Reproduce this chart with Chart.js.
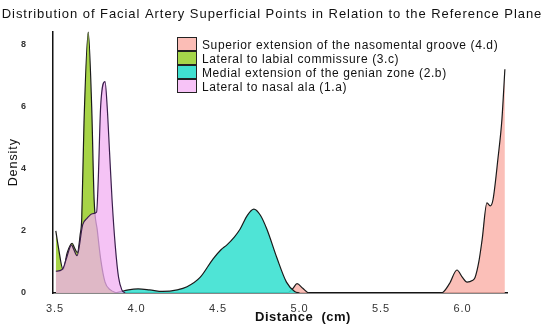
<!DOCTYPE html>
<html><head><meta charset="utf-8">
<script src="https://cdn.jsdelivr.net/npm/chart.js@4.4.0/dist/chart.umd.min.js"></script>
<style>html,body{margin:0;padding:0;background:#fff}</style>
</head><body>
<canvas id="c" width="544" height="325"></canvas>
<script>
const chartTitle = 'Distribution of Facial Artery Superficial Points in Relation to the Reference Plane';
const xTitle = 'Distance  (cm)';
const yTitle = 'Density';
const seriesLabels = [
  'Superior extension of the nasomental groove (4.d)',
  'Lateral to labial commissure (3.c)',
  'Medial extension of the genian zone (2.b)',
  'Lateral to nasal ala (1.a)'
];
const xTickValues = [3.5, 4.0, 4.5, 5.0, 5.5, 6.0];
const yTickValues = [0, 2, 4, 6, 8];

// 4.d
const nasomentalX = [4.93, 4.96, 4.985, 5.02, 5.06, 5.87, 5.92, 5.966, 6.0, 6.028, 6.06, 6.077, 6.10, 6.12, 6.15, 6.17, 6.187, 6.218, 6.242, 6.26];
const nasomentalY = [0, 0.15, 0.3, 0.15, 0, 0, 0.3, 0.74, 0.5, 0.35, 0.4, 0.5, 1.0, 1.7, 2.9, 2.8, 3.0, 4.35, 5.6, 7.2];
// 3.c
const commissureX = [3.505, 3.52, 3.55, 3.575, 3.605, 3.62, 3.637, 3.655, 3.664, 3.678, 3.704, 3.725, 3.74, 3.76, 3.78, 3.807, 3.84, 3.88];
const commissureY = [2.0, 1.5, 0.75, 1.3, 1.6, 1.45, 1.3, 1.9, 2.4, 5.5, 8.4, 6.0, 3.0, 2.0, 1.1, 0.35, 0.1, 0];
// 2.b
const genianX = [3.87, 3.90, 3.95, 4.01, 4.08, 4.16, 4.25, 4.31, 4.39, 4.47, 4.52, 4.555, 4.60, 4.635, 4.68, 4.72, 4.76, 4.80, 4.86, 4.92, 4.97, 5.0];
const genianY = [0, 0.04, 0.1, 0.13, 0.1, 0.05, 0.1, 0.2, 0.5, 1.1, 1.4, 1.55, 1.8, 2.05, 2.5, 2.7, 2.5, 2.05, 1.15, 0.35, 0.05, 0];
// 1.a
const nasalAlaX = [3.505, 3.53, 3.55, 3.575, 3.59, 3.60, 3.615, 3.635, 3.67, 3.696, 3.73, 3.755, 3.765, 3.78, 3.807, 3.82, 3.835, 3.85, 3.87, 3.89, 3.91, 3.93];
const nasalAlaY = [0.7, 0.72, 0.8, 1.2, 1.45, 1.55, 1.4, 1.2, 2.2, 2.4, 2.55, 2.6, 3.6, 6.0, 6.8, 6.0, 4.5, 3.0, 1.5, 0.5, 0.1, 0];

const fills = ['rgba(250,180,172,0.85)', 'rgba(160,208,55,0.92)', 'rgba(60,225,210,0.9)', 'rgba(242,175,242,0.75)'];
const borders = ['#1a1a1a', '#1a1a1a', '#1a1a1a', '#3a1d4c'];
const legendFills = ['#fbbdb6', '#a5d64a', '#40e0d0', '#f7c3f7'];

const FONT = "'Liberation Sans', Arial, sans-serif";
const pairs = (xs, ys) => xs.map((x, i) => ({x: x, y: ys[i]}));
const seriesData = [pairs(nasomentalX, nasomentalY), pairs(commissureX, commissureY), pairs(genianX, genianY), pairs(nasalAlaX, nasalAlaY)];
const drawOrder = [4, 3, 2, 1];

const datasets = seriesLabels.map((lab, i) => ({
  label: lab,
  data: seriesData[i],
  xAxisID: 'x',
  yAxisID: 'y',
  backgroundColor: fills[i],
  borderColor: borders[i],
  borderWidth: 1.2,
  pointRadius: 0,
  fill: 'origin',
  cubicInterpolationMode: 'monotone',
  order: drawOrder[i]
}));

const spacingPlugin = {
  id: 'spacing',
  beforeDraw(chart) { chart.ctx.letterSpacing = '0.95px'; }
};

const overlayPlugin = {
  id: 'overlay',
  afterDraw(chart) {
    const ctx = chart.ctx;
    ctx.save();
    // legend
    const x0 = 177, y0 = 37, bw = 20, bh = 14;
    ctx.letterSpacing = '0.6px';
    seriesLabels.forEach((lab, i) => {
      const y = y0 + i * bh;
      ctx.fillStyle = legendFills[i];
      ctx.fillRect(x0, y, bw, bh);
      ctx.strokeStyle = '#222';
      ctx.lineWidth = 1;
      ctx.strokeRect(x0 + 0.5, y + 0.5, bw - 1, bh - 1);
      ctx.fillStyle = '#111';
      ctx.font = '12px ' + FONT;
      ctx.textBaseline = 'middle';
      ctx.textAlign = 'left';
      ctx.fillText(lab, x0 + bw + 5, y + bh / 2 + 1.5);
    });
    // x title
    ctx.letterSpacing = '0.5px';
    ctx.font = 'bold 13px ' + FONT;
    ctx.fillStyle = '#111';
    ctx.textAlign = 'center';
    ctx.textBaseline = 'middle';
    ctx.fillText(xTitle, 303, 317);
    ctx.restore();
    ctx.letterSpacing = '0px';
  }
};

new Chart(document.getElementById('c'), {
  type: 'line',
  data: { datasets: datasets },
  plugins: [spacingPlugin, overlayPlugin],
  options: {
    responsive: false,
    devicePixelRatio: 1,
    animation: false,
    layout: { padding: 0 },
    plugins: {
      legend: { display: false },
      tooltip: { enabled: false },
      title: {
        display: true,
        text: chartTitle,
        color: '#111',
        font: { family: FONT, size: 13, weight: 'normal' },
        padding: { top: 5, bottom: 9.4 }
      }
    },
    scales: {
      x: {
        type: 'linear',
        min: 3.4877,
        max: 6.273,
        grid: { display: false, drawTicks: false },
        border: { display: true, color: '#111', width: 1.5 },
        afterBuildTicks: (s) => { s.ticks = xTickValues.map(v => ({value: v})); },
        afterFit: (s) => { s.height = 32; },
        ticks: {
          padding: 9,
          color: '#333',
          font: { family: FONT, size: 11 },
          callback: (v) => Number(v).toFixed(1),
          maxRotation: 0
        }
      },
      y: {
        type: 'linear',
        position: 'left',
        min: 0,
        max: 8.416,
        grid: { display: false, drawTicks: false },
        border: { display: true, color: '#111', width: 1.5 },
        afterBuildTicks: (s) => { s.ticks = yTickValues.map(v => ({value: v})); },
        afterFit: (s) => { s.width = 53; },
        title: {
          display: true,
          text: yTitle,
          color: '#111',
          font: { family: FONT, size: 12.5 },
          padding: { top: 6, bottom: 0 }
        },
        ticks: {
          padding: 26,
          color: '#333',
          font: { family: FONT, size: 9, weight: 'bold' }
        }
      },
      yRight: {
        type: 'linear',
        position: 'right',
        min: 0,
        max: 8.416,
        grid: { display: false, drawTicks: false },
        border: { display: false },
        ticks: { display: false },
        afterFit: (s) => { s.width = 37; }
      }
    }
  }
});
</script>
</body></html>
